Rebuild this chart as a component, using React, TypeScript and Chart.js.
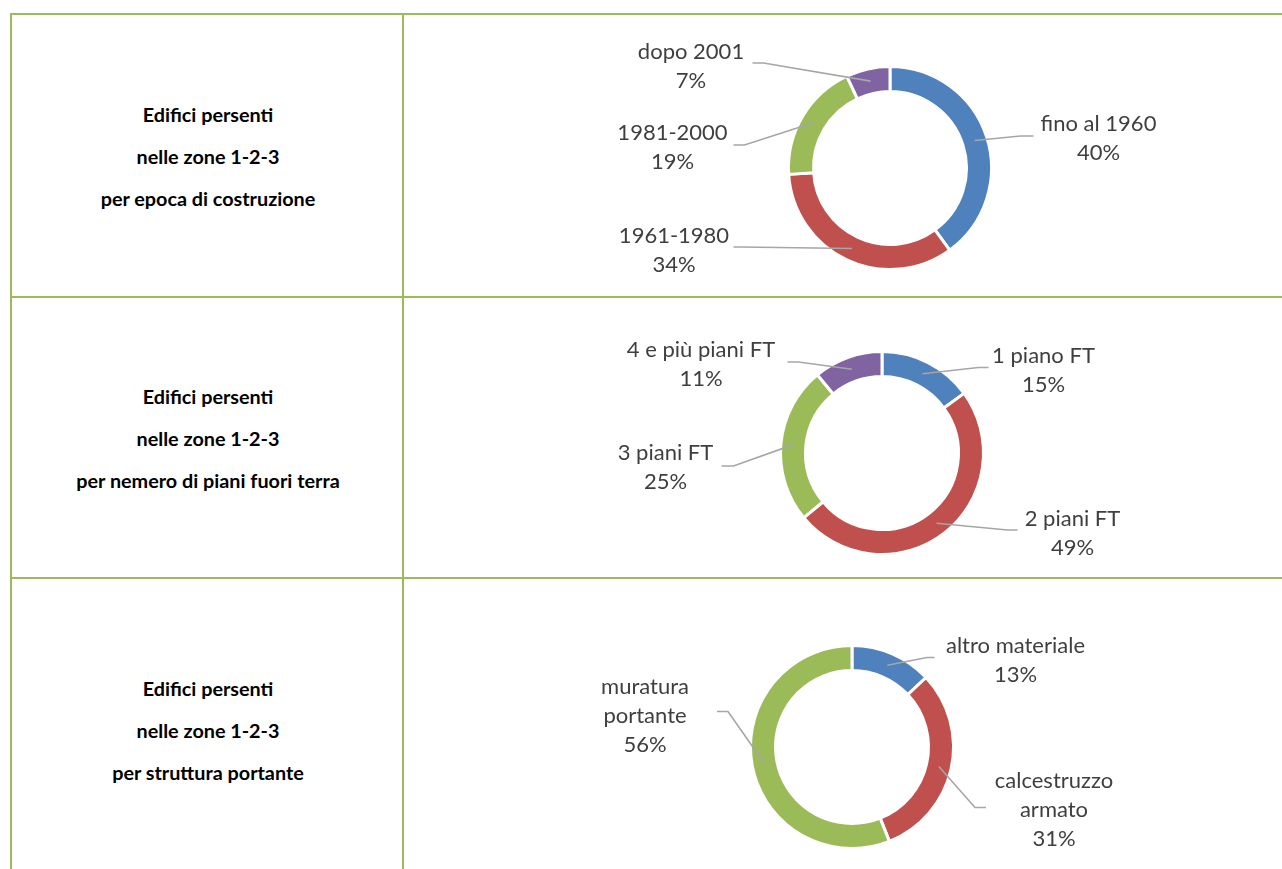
import React, { useEffect, useRef } from "react";
import { Chart, registerables } from "chart.js";

Chart.register(...registerables);

// ---------- DATA ----------
const epocaLabels: (string | string[])[] = ["fino al 1960", "1961-1980", "1981-2000", "dopo 2001"];
const epocaValues: number[] = [40, 34, 19, 7];

const pianiLabels: (string | string[])[] = ["1 piano FT", "2 piani FT", "3 piani FT", "4 e più piani FT"];
const pianiValues: number[] = [15, 49, 25, 11];

const strutturaLabels: (string | string[])[] = ["altro materiale", ["calcestruzzo", "armato"], ["muratura", "portante"]];
const strutturaValues: number[] = [13, 31, 56];

const rowTitles: string[][] = [
  ["Edifici persenti", "nelle zone 1-2-3", "per epoca di costruzione"],
  ["Edifici persenti", "nelle zone 1-2-3", "per nemero di piani fuori terra"],
  ["Edifici persenti", "nelle zone 1-2-3", "per struttura portante"],
];

// ---------- STYLE / LAYOUT ----------
const COLORS = ["#4F81BD", "#C0504D", "#9BBB59", "#8064A2"];
const GREEN = "#9BBB59";
const LABEL_FONT = 'Lato, "Open Sans", sans-serif';

type Placement = { text: [number, number]; elbow: [number, number]; end: [number, number] };

const epocaPlacements: Placement[] = [
  { text: [208.5, -30.5], elbow: [130.5, -32], end: [143.5, -32] },
  { text: [-216, 81], elbow: [-149.5, 79], end: [-156.5, 79] },
  { text: [-217.5, -21.5], elbow: [-145.5, -23], end: [-156.5, -23] },
  { text: [-199, -103], elbow: [-126.5, -105], end: [-137.5, -105] },
];
const pianiPlacements: Placement[] = [
  { text: [161.5, -84], elbow: [96.5, -85.5], end: [106.5, -85.5] },
  { text: [190.5, 79], elbow: [125.5, 77], end: [135.5, 77] },
  { text: [-216.5, 13.5], elbow: [-148.5, 13], end: [-160.5, 13] },
  { text: [-181, -89.5], elbow: [-83.5, -91], end: [-94.5, -91] },
];
const strutturaPlacements: Placement[] = [
  { text: [163.5, -87.5], elbow: [75, -89.5], end: [82.5, -89.5] },
  { text: [202, 61.5], elbow: [123, 60.5], end: [134, 60.5] },
  { text: [-207, -32.5], elbow: [-124, -35.5], end: [-135, -35.5] },
];

const leaderLabels = {
  id: "leaderLabels",
  afterDatasetsDraw(chart: any, _args: any, opts: any) {
    const ctx: CanvasRenderingContext2D = chart.ctx;
    const meta = chart.getDatasetMeta(0);
    const data = chart.data.datasets[0].data as number[];
    const labels = chart.data.labels as (string | string[])[];
    const total = data.reduce((a, b) => a + b, 0);
    const placements: Placement[] = opts.placements || [];
    ctx.save();
    meta.data.forEach((arc: any, i: number) => {
      const p = placements[i];
      if (!p) return;
      const { x, y, startAngle, endAngle, innerRadius, outerRadius } = arc.getProps(
        ["x", "y", "startAngle", "endAngle", "innerRadius", "outerRadius"],
        true
      );
      const mid = (startAngle + endAngle) / 2;
      const rr = (innerRadius + outerRadius) / 2;
      const sx = x + Math.cos(mid) * rr;
      const sy = y + Math.sin(mid) * rr;
      ctx.strokeStyle = "#A6A6A6";
      ctx.lineWidth = 1.6;
      ctx.beginPath();
      ctx.moveTo(sx, sy);
      ctx.lineTo(x + p.elbow[0], y + p.elbow[1]);
      ctx.lineTo(x + p.end[0], y + p.end[1]);
      ctx.stroke();

      const lab = labels[i];
      const lines = Array.isArray(lab) ? [...lab] : [lab];
      lines.push(Math.round((data[i] / total) * 100) + "%");
      ctx.fillStyle = "#3F3F3F";
      ctx.font = `${opts.fontSize}px ${LABEL_FONT}`;
      ctx.textAlign = "center";
      ctx.textBaseline = "middle";
      const n = lines.length;
      lines.forEach((t, k) => {
        ctx.fillText(t, x + p.text[0], y + p.text[1] + (k - (n - 1) / 2) * opts.lineHeight + 1);
      });
    });
    ctx.restore();
  },
};

type DonutProps = {
  labels: (string | string[])[];
  values: number[];
  placements: Placement[];
  cx: number;
  cy: number;
};

const CW = 640;
const CH = 280;

function Donut({ labels, values, placements, cx, cy }: DonutProps) {
  const ref = useRef<HTMLCanvasElement | null>(null);
  useEffect(() => {
    if (!ref.current) return;
    const outer = 101.5;
    const inner = 76.5;
    const chart = new Chart(ref.current, {
      type: "doughnut",
      data: {
        labels: labels as any,
        datasets: [
          {
            data: values,
            backgroundColor: COLORS.slice(0, values.length),
            borderColor: "#ffffff",
            borderWidth: 3,
            hoverOffset: 0,
          } as any,
        ],
      },
      options: {
        animation: false,
        responsive: false,
        maintainAspectRatio: false,
        radius: outer,
        cutout: ((inner / outer) * 100).toFixed(3) + "%",
        layout: { padding: 0 },
        events: [],
        plugins: {
          legend: { display: false },
          tooltip: { enabled: false },
          leaderLabels: { placements, fontSize: 22, lineHeight: 29 },
        } as any,
      } as any,
      plugins: [leaderLabels],
    });
    return () => chart.destroy();
  }, []);
  return (
    <canvas
      ref={ref}
      width={CW}
      height={CH}
      style={{ position: "absolute", left: cx - CW / 2, top: cy - CH / 2, width: CW, height: CH }}
    />
  );
}

const rowTops = [13, 296, 577, 880];

export default function App() {
  const line = (s: React.CSSProperties) => (
    <div style={{ position: "absolute", background: GREEN, ...s }} />
  );
  return (
    <div
      style={{
        position: "absolute",
        left: 0,
        top: 0,
        width: 1282,
        height: 869,
        overflow: "hidden",
        background: "#fff",
      }}
    >
      {line({ left: 10, top: 13, width: 1300, height: 2 })}
      {line({ left: 10, top: 296, width: 1300, height: 2 })}
      {line({ left: 10, top: 577, width: 1300, height: 2 })}
      {line({ left: 10, top: 13, width: 2, height: 900 })}
      {line({ left: 402, top: 13, width: 2, height: 900 })}

      {rowTitles.map((lines, r) => {
        const mid = r === 2 ? 730 : (rowTops[r] + rowTops[r + 1]) / 2 + 1;
        return lines.map((t, k) => (
          <div
            key={r + "-" + k}
            style={{
              position: "absolute",
              left: 12,
              width: 392,
              top: mid + (k - 1) * 42 - 12,
              height: 24,
              lineHeight: "24px",
              textAlign: "center",
              fontFamily: 'Lato, "Open Sans", sans-serif',
              fontWeight: 700,
              fontSize: 19.8,
              color: "#000",
            }}
          >
            {t}
          </div>
        ));
      })}

      <Donut labels={epocaLabels} values={epocaValues} placements={epocaPlacements} cx={889.5} cy={168} />
      <Donut labels={pianiLabels} values={pianiValues} placements={pianiPlacements} cx={881.5} cy={453.3} />
      <Donut labels={strutturaLabels} values={strutturaValues} placements={strutturaPlacements} cx={852} cy={746.5} />
    </div>
  );
}
